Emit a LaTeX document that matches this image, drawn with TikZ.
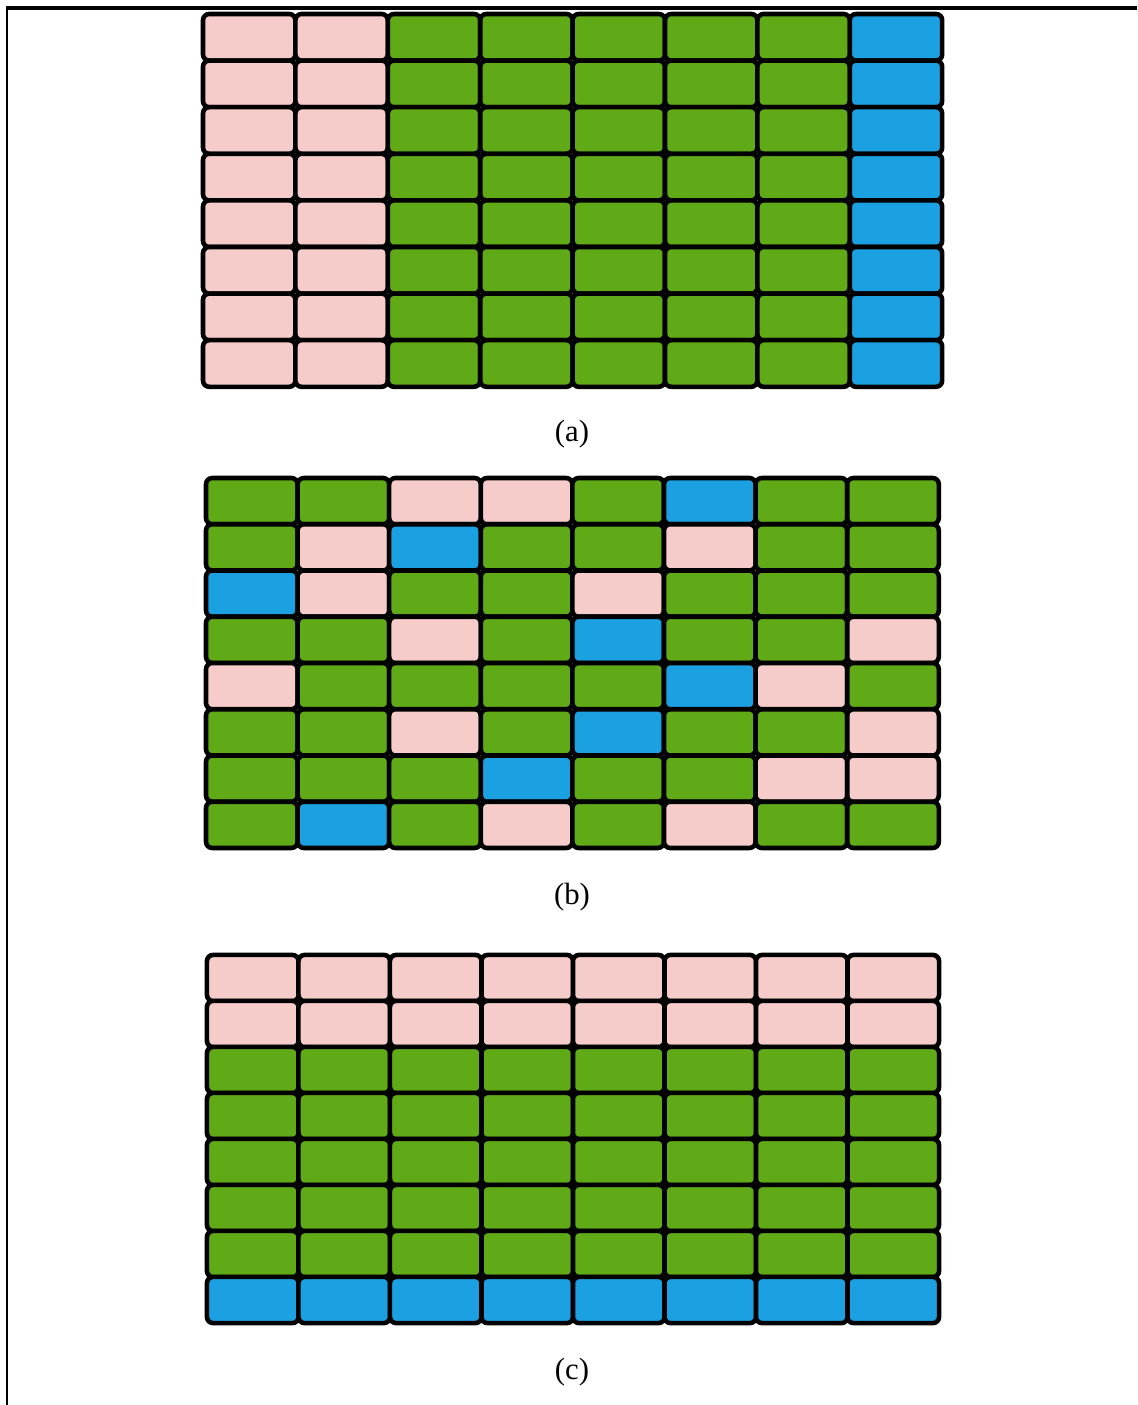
\documentclass[tikz,border=0pt]{standalone}
\usepackage{fontspec}
\setmainfont{Liberation Serif}
\usetikzlibrary{positioning}
\definecolor{cellp}{HTML}{F6CCCB}
\definecolor{cellg}{HTML}{60A917}
\definecolor{cellb}{HTML}{1BA1E2}

\begin{document}
\begin{tikzpicture}[
    x=0.02cm, y=-0.02cm,
    cell/.style={rectangle, draw=black, line width=2.6pt, rounded corners=3.5pt, inner sep=0pt, minimum width=1.832cm, minimum height=0.924cm},
    cellwide/.style={cell, minimum width=1.848cm, minimum height=0.932cm},
    caption/.style={font=\fontsize{17.5}{20}\selectfont}
]
\useasboundingbox (0,0) rectangle (1137,1405);

% frame of the page
\draw[line width=2.2pt] (6,8) -- (1137,8);
\draw[line width=1pt] (7,8) -- (7,1405);

% (a) columns
\foreach \i in {1,...,8}
  \foreach \c [count=\j] in {p,p,g,g,g,g,g,b}
    \node[cellwide, fill=cell\c] (a-\i-\j) at ({203+(\j-0.5)*92.4},{14+(\i-0.5)*46.6}) {};
\node[caption] (capa) at (572,434) {(a)};

% (b) scattered
\foreach \row [count=\i] in {
    {g,g,p,p,g,b,g,g},
    {g,p,b,g,g,p,g,g},
    {b,p,g,g,p,g,g,g},
    {g,g,p,g,b,g,g,p},
    {p,g,g,g,g,b,p,g},
    {g,g,p,g,b,g,g,p},
    {g,g,g,b,g,g,p,p},
    {g,b,g,p,g,p,g,g}}
  \foreach \c [count=\j] in \row
    \node[cell, fill=cell\c] (b-\i-\j) at ({206+(\j-0.5)*91.6},{478+(\i-0.5)*46.25}) {};
\node[caption] (capb) at (572,897) {(b)};

% (c) rows
\foreach \c [count=\i] in {p,p,g,g,g,g,g,b}
  \foreach \j in {1,...,8}
    \node[cell, fill=cell\c] (c-\i-\j) at ({207+(\j-0.5)*91.5},{955+(\i-0.5)*46}) {};
\node[caption] (capc) at (572,1372) {(c)};

\end{tikzpicture}
\end{document}
